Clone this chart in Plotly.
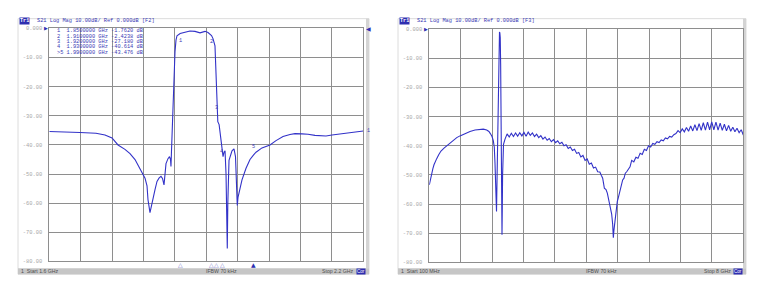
import plotly.graph_objects as go

W, H = 760, 289

# ---------------- data ----------------
left_freq_ghz = [1.600, 1.630, 1.6587, 1.6892, 1.7064, 1.7198, 1.7313, 1.7446, 1.7542, 1.7638,
                 1.7733, 1.7829, 1.7867, 1.7886, 1.7924, 1.7943, 1.7962, 1.8020, 1.8058, 1.8096,
                 1.8134, 1.8163, 1.8192, 1.8211, 1.8230, 1.8268, 1.8297, 1.8316, 1.8325, 1.8335,
                 1.8345, 1.8364, 1.8383, 1.8402, 1.8421, 1.8440, 1.8500, 1.8593, 1.8689, 1.8784,
                 1.8880, 1.8975, 1.9033, 1.9100, 1.9128, 1.9166, 1.9186, 1.9200, 1.9220, 1.9245,
                 1.9263, 1.9300, 1.9320, 1.9339, 1.9358, 1.9377, 1.9396, 1.9401, 1.9411, 1.9424,
                 1.9434, 1.9491, 1.9529, 1.9558, 1.9577, 1.9592, 1.9606, 1.9644, 1.9682, 1.9759,
                 1.9835, 1.9900, 1.9950, 2.0064, 2.0217, 2.0332, 2.0466, 2.0599, 2.0695, 2.0829,
                 2.0943, 2.1077, 2.1172, 2.1287, 2.1402, 2.1555, 2.1746, 2.2000]
left_db = [-35.4, -35.5, -35.7, -36.0, -36.6, -37.6, -40.0, -41.5, -43.0, -45.0,
           -48.0, -51.4, -54.0, -58.8, -63.2, -61.5, -60.8, -55.3, -52.5, -51.4,
           -50.8, -51.5, -53.7, -50.0, -46.4, -44.7, -44.0, -45.0, -47.4, -42.0,
           -36.0, -25.0, -15.0, -8.0, -4.0, -2.5, -1.762, -1.3, -0.9, -1.0,
           -1.5, -1.0, -1.4, -2.4238, -3.5, -6.0, -19.0, -27.18, -32.0, -33.0,
           -35.7, -40.614, -44.0, -42.5, -42.0, -50.0, -66.0, -75.5, -60.0, -48.0,
           -45.3, -42.0, -41.3, -44.0, -52.0, -60.8, -58.0, -55.0, -52.0, -48.0,
           -45.0, -43.476, -42.5, -41.0, -40.0, -38.5, -37.1, -36.4, -36.1, -36.2,
           -36.3, -36.7, -36.9, -36.9, -36.6, -36.2, -35.7, -35.2]

right_freq_mhz = [100, 130, 160, 190, 218, 250, 286, 340, 394, 470, 538, 620, 696, 790, 872,
                  1000, 1124, 1250, 1376, 1460, 1544, 1600, 1640, 1678, 1710, 1735, 1753, 1770,
                  1783, 1791, 1800, 1808, 1816, 1828, 1838, 1848, 1858, 1866, 1875, 1885, 1895,
                  1905, 1915, 1923, 1929, 1936, 1944, 1954, 1967,
                  2005, 2058, 2111, 2164, 2217, 2270, 2323, 2376, 2429, 2482, 2535, 2588, 2641,
                  2694, 2747, 2800, 2853, 2906, 2959, 3012, 3065, 3118, 3171, 3224, 3277, 3330,
                  3383, 3436, 3489, 3542, 3595, 3648, 3701, 3754, 3807, 3860, 3913, 3966, 4019,
                  4072, 4125, 4178, 4231, 4284, 4337, 4390,
                  4430, 4462, 4504, 4546, 4579, 4630, 4663, 4688, 4713, 4730, 4745, 4755, 4772,
                  4797, 4831, 4856, 4898, 4940, 4965, 4999, 5032, 5066, 5108, 5150,
                  5192, 5245, 5298, 5351, 5404, 5457, 5510, 5563, 5616, 5669, 5722, 5775, 5828,
                  5881, 5934, 5987, 6040, 6093, 6146, 6199, 6252, 6305,
                  6358, 6411, 6464, 6517, 6570, 6623, 6676, 6729, 6782, 6835, 6888, 6941, 6994,
                  7047, 7100, 7153, 7206, 7259, 7312, 7365, 7418, 7471, 7524, 7577, 7630, 7683,
                  7736, 7789, 7842, 7895, 7948, 8000]
right_db = [-53.4, -51.2, -49.4, -47.8, -46.5, -45.4, -44.4, -43.0, -41.8, -40.8, -40.0, -38.9,
            -38.0, -37.2, -36.6, -35.7, -35.1, -34.6, -34.3, -34.3, -34.6, -35.1, -35.9, -36.8,
            -38.2, -40.5, -46.0, -52.0, -57.0, -62.5, -55.0, -48.0, -42.0, -28.0, -12.0, -3.0,
            -1.3, -1.0, -1.3, -3.0, -12.0, -30.0, -48.0, -60.0, -70.5, -62.0, -50.0, -43.0, -39.5,
            -37.7, -35.9, -37.0, -35.7, -36.8, -35.6, -36.7, -35.5, -36.6, -35.4, -36.7, -35.3,
            -36.4, -35.6, -36.8, -36.0, -37.2, -36.5, -37.7, -37.0, -38.1, -37.5, -38.6, -37.9,
            -38.9, -38.3, -39.3, -38.8, -40.0, -39.6, -40.9, -40.4, -41.6, -41.2, -42.6, -42.3,
            -43.8, -43.3, -45.0, -44.5, -46.3, -45.9, -47.6, -47.3, -48.9, -49.0,
            -50.2, -51.1, -54.5, -55.0, -56.2, -59.5, -60.6, -63.4, -66.8, -71.5, -69.0, -67.9,
            -64.6, -61.8, -59.0, -57.8, -55.0, -52.8, -51.7, -51.1, -49.4, -48.9, -47.8, -47.2,
            -45.0, -45.5, -43.9, -44.3, -42.6, -43.0, -41.2, -41.6, -40.0, -40.4, -39.2, -39.5,
            -38.6, -38.9, -38.0, -38.3, -37.3, -37.6, -36.8, -37.0, -36.2, -35.8,
            -34.8, -35.5, -34.2, -35.2, -33.7, -35.0, -33.2, -34.9, -32.8, -34.8, -32.4, -34.7,
            -32.1, -34.6, -31.9, -34.5, -31.8, -34.5, -31.9, -34.6, -32.2, -34.7, -32.6, -34.9,
            -33.0, -35.0, -33.6, -35.2, -34.0, -35.5, -34.5, -36.3]

marker_num = ["1", "2", "3", "4", ">5"]
marker_freq_ghz = [1.85, 1.91, 1.92, 1.93, 1.99]
marker_db = [-1.7620, -2.4238, -27.180, -40.614, -43.476]
active_marker = 4

y_ticks = [0, -10, -20, -30, -40, -50, -60, -70, -80]
y_ticklabels = ["0.000", "-10.00", "-20.00", "-30.00", "-40.00", "-50.00", "-60.00", "-70.00", "-80.00"]

left_header = "S21 Log Mag 10.00dB/ Ref 0.000dB [F2]"
right_header = "S21 Log Mag 10.00dB/ Ref 0.000dB [F3]"
left_status = ["1  Start 1.6 GHz", "IFBW 70 kHz", "Stop 2.2 GHz"]
right_status = ["1  Start 100 MHz", "IFBW 70 kHz", "Stop 8 GHz"]

# ---------------- style ----------------
BLUE = "#3232c8"
TXTBLUE = "#3a3ab4"
GRID = "#8e8e8e"
MONO = "Liberation Mono"
SANS = "Liberation Sans"


def px(x):
    return x / W


def py(y):
    return 1 - y / H


L = dict(x0=49.3, x1=363.3, top=27.0, bot=265.0, fx0=18, fx1=369)
R = dict(x0=429.3, x1=743.3, top=27.7, bot=266.0, fx0=398, fx1=746)

fig = go.Figure()
fig.add_trace(go.Scatter(x=left_freq_ghz, y=left_db, mode="lines", xaxis="x", yaxis="y",
                         line=dict(color=BLUE, width=1.1), hoverinfo="skip"))
fig.add_trace(go.Scatter(x=right_freq_mhz, y=right_db, mode="lines", xaxis="x2", yaxis="y2",
                         line=dict(color=BLUE, width=1.1), hoverinfo="skip"))


def xax(P, rng, tick0, dtick, anchor):
    return dict(domain=[px(P["x0"]), px(P["x1"])], range=rng, tick0=tick0, dtick=dtick,
                showgrid=True, gridcolor=GRID, gridwidth=1, showticklabels=False, ticks="",
                zeroline=False, showline=True, mirror=True, linecolor=GRID, linewidth=1,
                anchor=anchor, fixedrange=True)


def yax(P, anchor):
    return dict(domain=[py(P["bot"]), py(P["top"])], range=[-80, 0], tickmode="array",
                tickvals=y_ticks, ticktext=y_ticklabels, showgrid=True, gridcolor=GRID,
                gridwidth=1, ticks="", zeroline=False, showline=True, mirror=True,
                linecolor=GRID, linewidth=1, anchor=anchor,
                tickfont=dict(family=MONO, size=5.4, color="#a6a6a6"), ticklabelstandoff=5,
                fixedrange=True)


shapes = []
annotations = []

for P, hdr, status in ((L, left_header, left_status), (R, right_header, right_status)):
    # outer frame
    shapes.append(dict(type="rect", xref="paper", yref="paper", x0=px(P["fx0"]), x1=px(P["fx1"]),
                       y0=py(278), y1=py(17), line=dict(color="#dcdcdc", width=1), layer="below"))
    # right band
    shapes.append(dict(type="rect", xref="paper", yref="paper", x0=px(P["fx1"] - 3), x1=px(P["fx1"]),
                       y0=py(272), y1=py(17), fillcolor="#d4d4d4", line=dict(width=0), layer="below"))
    # status bar
    shapes.append(dict(type="rect", xref="paper", yref="paper", x0=px(P["fx0"]), x1=px(P["fx1"]),
                       y0=py(278), y1=py(272), fillcolor="#c6c6c6", line=dict(width=0)))
    # header
    annotations.append(dict(xref="paper", yref="paper", x=px(P["fx0"] + 1), y=py(19.5),
                            xanchor="left", yanchor="middle", showarrow=False,
                            text="<b>Tr1</b>", bgcolor="#2e2eb0", borderpad=0,
                            font=dict(family=MONO, size=5.2, color="white")))
    annotations.append(dict(xref="paper", yref="paper", x=px(P["fx0"] + 17), y=py(19.5),
                            xanchor="left", yanchor="middle", showarrow=False, text=hdr,
                            font=dict(family=MONO, size=5.3, color=TXTBLUE)))
    # status texts
    annotations.append(dict(xref="paper", yref="paper", x=px(P["fx0"] + 1), y=py(275),
                            xanchor="left", yanchor="middle", showarrow=False, text=status[0],
                            font=dict(family=SANS, size=5.2, color="#505050")))
    annotations.append(dict(xref="paper", yref="paper", x=px((P["x0"] + P["x1"]) / 2 + 15), y=py(275),
                            xanchor="center", yanchor="middle", showarrow=False, text=status[1],
                            font=dict(family=SANS, size=5.2, color="#505050")))
    annotations.append(dict(xref="paper", yref="paper", x=px(P["fx1"] - 13), y=py(275),
                            xanchor="right", yanchor="middle", showarrow=False, text=status[2],
                            font=dict(family=SANS, size=5.2, color="#505050")))
    annotations.append(dict(xref="paper", yref="paper", x=px(P["fx1"] - 3), y=py(275),
                            xanchor="right", yanchor="middle", showarrow=False, text="Cor",
                            bgcolor="#2e2eb0", borderpad=0,
                            font=dict(family=SANS, size=4.6, color="white")))
    # reference arrow at 0 dB
    annotations.append(dict(xref="paper", yref="paper", x=px(P["x0"] + 0.3), y=py(P["top"]),
                            xanchor="right", yanchor="middle", showarrow=False, text="▶",
                            font=dict(family="DejaVu Sans", size=5, color="#2e2eb0")))

# right-side reference arrow and trace label in left panel
annotations.append(dict(xref="paper", yref="paper", x=px(L["x1"] + 1), y=py(L["top"]),
                        xanchor="left", yanchor="middle", showarrow=False, text="◀",
                        font=dict(family="DejaVu Sans", size=6, color="#2e2eb0")))
annotations.append(dict(xref="x", yref="y", x=left_freq_ghz[-1], y=left_db[-1], xshift=2,
                        xanchor="left", yanchor="middle", showarrow=False, text="1",
                        font=dict(family=MONO, size=5, color=TXTBLUE)))

# marker table
for i, (n, f, d) in enumerate(zip(marker_num, marker_freq_ghz, marker_db)):
    dtxt = f"{d:.4f}" if abs(d) < 10 else f"{d:.3f}"
    line = f"{n:<2} {f:.7f} GHz {dtxt:>7} dB"
    annotations.append(dict(xref="paper", yref="paper", x=px(55), y=py(30 + 5.4 * i),
                            xanchor="left", yanchor="middle", showarrow=False, text=line.replace(" ", "&nbsp;"),
                            font=dict(family=MONO, size=5.3, color=TXTBLUE)))

# marker labels on trace
marker_shift = [-7, -7, 0, -5, 8]
marker_xshift = [0, 0, 0, -1, 0]
for i, (n, f, d) in enumerate(zip(marker_num, marker_freq_ghz, marker_db)):
    annotations.append(dict(xref="x", yref="y", x=f, y=d, yshift=marker_shift[i], xshift=marker_xshift[i],
                            showarrow=False, text=n.strip(">"),
                            font=dict(family=MONO, size=5.3, color=TXTBLUE)))
    # bottom marker indicators
    annotations.append(dict(xref="x", yref="paper", x=f, y=py(268.5), yanchor="middle",
                            showarrow=False, text="▲" if i == active_marker else "△",
                            font=dict(family="DejaVu Sans", size=6,
                                      color="#2e2eb0" if i == active_marker else "#6a6ac8")))

fig.update_layout(
    width=W, height=H, margin=dict(l=0, r=0, t=0, b=0),
    paper_bgcolor="white", plot_bgcolor="white", showlegend=False,
    xaxis=xax(L, [1.6, 2.2], 1.6, 0.06, "y"),
    yaxis=yax(L, "x"),
    xaxis2=xax(R, [100, 8000], 100, 790, "y2"),
    yaxis2=yax(R, "x2"),
    shapes=shapes, annotations=annotations,
)

fig.write_html("out.html")
